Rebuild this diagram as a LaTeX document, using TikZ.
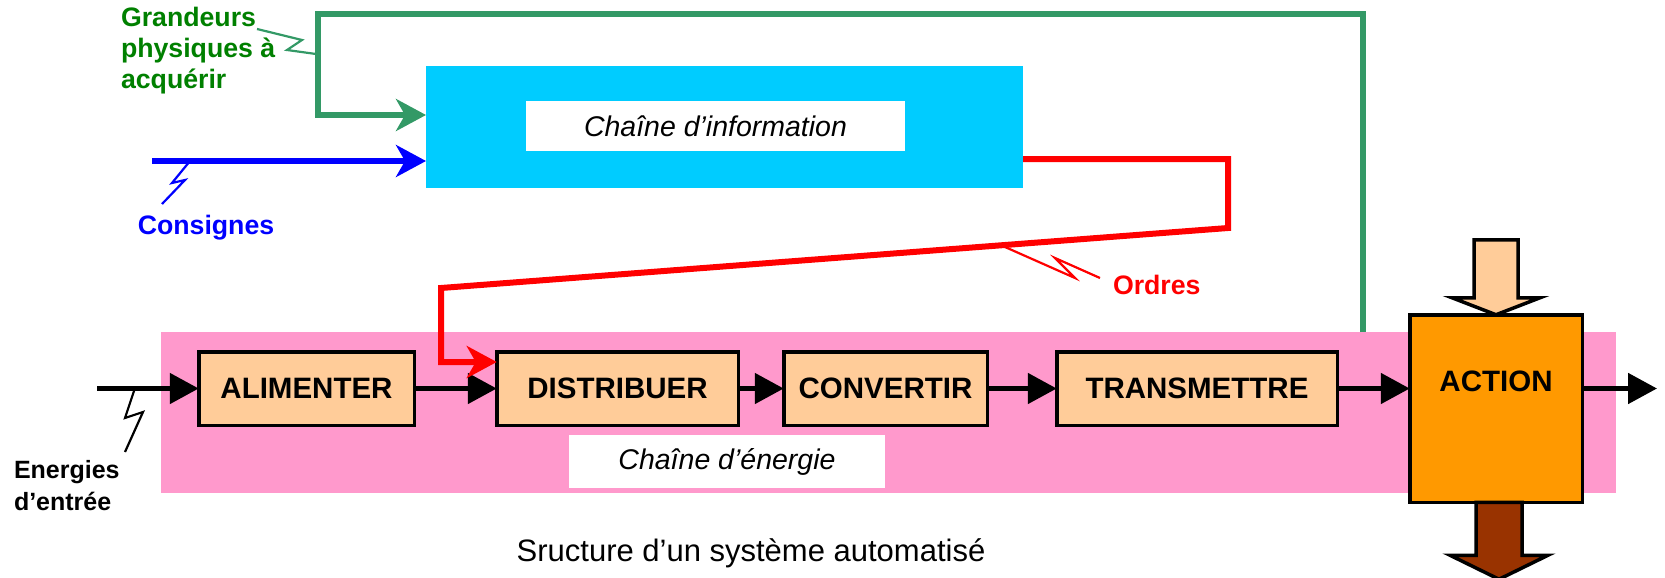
\documentclass[tikz,border=0pt]{standalone}
\usepackage{fontspec}
\setmainfont{Liberation Sans}
\usetikzlibrary{positioning,arrows.meta,calc}
\definecolor{InfoCyan}{HTML}{00CCFF}
\definecolor{EnergyPink}{HTML}{FF99CC}
\definecolor{BoxTan}{HTML}{FFCC99}
\definecolor{ActionOrange}{HTML}{FF9900}
\definecolor{OutBrown}{HTML}{993300}
\definecolor{SensorGreen}{HTML}{339966}
\definecolor{LabelGreen}{HTML}{008000}

\begin{document}
\begin{tikzpicture}[
    x=1pt, y=-1pt,
    every node/.style={inner sep=0pt, outer sep=0pt},
    chainbox/.style={draw=black, line width=3.5pt, fill=BoxTan, minimum height=73.5pt, font=\bfseries\fontsize{29.5}{32}\selectfont},
    tag/.style={fill=white, font=\itshape\fontsize{28.5}{32}\selectfont},
    side/.style={font=\bfseries\fontsize{26.7}{31}\selectfont, align=left},
    flow/.style={line width=5pt, -{Triangle[length=29pt,width=30pt]}},
    signal/.style={line width=6pt, -{Stealth[length=30pt,width=32pt,inset=9pt]}},
    zig/.style={line width=2.2pt},
    blockarrow/.style={draw=black, line width=3.5pt, line join=miter}
  ]
    \useasboundingbox (0,0) rectangle (1665,578);

    % the two chains
    \node[fill=EnergyPink, minimum width=1455pt, minimum height=161pt] (energy) at (888.5,412.5) {};
    \node[tag, minimum width=316pt, minimum height=53pt] (energytag) at (727,461.5) {Chaîne d’énergie};
    \node[fill=InfoCyan, minimum width=597pt, minimum height=122pt] (info) at (724.5,127) {};
    \node[tag, minimum width=379pt, minimum height=50pt] (infotag) at (715.5,126) {Chaîne d’information};

    \node[chainbox, minimum width=215.5pt] (alim) at (306.5,388.5) {ALIMENTER};
    \node[chainbox, minimum width=241.5pt, right=82.5pt of alim] (dist) {DISTRIBUER};
    \node[chainbox, minimum width=203.5pt, right=45.5pt of dist] (conv) {CONVERTIR};
    \node[chainbox, minimum width=280.5pt, right=69.5pt of conv] (trans) {TRANSMETTRE};
    \node[chainbox, fill=ActionOrange, minimum width=172.5pt, minimum height=187.5pt] (action) at (1496,408.5) {};
    \node[font=\bfseries\fontsize{29.5}{32}\selectfont, below=56pt of action.north] (actionname) {ACTION};

    % matter in / matter out
    \draw[blockarrow, fill=BoxTan] (action.north) -- ++(-44,-17) -- ++(22,0) -- ++(0,-58) -- ++(44,0) -- ++(0,58) -- ++(22,0) -- cycle;
    \draw[blockarrow, fill=OutBrown] ($(action.south)+(-20,0)$) -- ++(0,53) -- ++(-26,0) -- ++(49,24) -- ++(49,-24) -- ++(-26,0) -- ++(0,-53) -- cycle;

    % energy flow
    \coordinate (feed) at (97,388.5);
    \coordinate (out) at (1657,388.5);
    \draw[flow] (feed) -- (alim);
    \draw[flow] (alim) -- (dist);
    \draw[flow] (dist) -- (conv);
    \draw[flow] (conv) -- (trans);
    \draw[flow] (trans.east) -- (trans.east -| action.west);
    \draw[flow] (action.east |- trans.east) -- (out);

    % information
    \coordinate (setpoint) at (152,161);
    \draw[signal, blue] (setpoint) -- (info.west |- setpoint);
    \draw[signal, SensorGreen] (energy.north -| 1363,0) -- (1363,14) -- (318,14) -- (318,115) -- (info.west |- 0,115);
    \draw[signal, red] (info.east |- 0,159) -- (1228,159) -- (1228,228) -- (441,288) -- (441,362) -- (dist.west |- 0,362);

    % labels
    \node[side, text=LabelGreen, anchor=west] (grandeurs) at (121,51) {Grandeurs\\physiques à\\acquérir};
    \node[side, text=blue] (consignes) at (206,228) {Consignes};
    \node[side, text=red, anchor=west] (ordres) at (1113,285) {Ordres};
    \node[side, font=\bfseries\fontsize{25}{32}\selectfont, anchor=west] (energies) at (14,486) {Energies\\d’entrée};
    \node[font=\fontsize{31}{36}\selectfont] (caption) at (751,553) {Sructure d’un système automatisé};

    \draw[zig, SensorGreen] (257,29) -- (302,40) -- (287,50) -- (316,54);
    \draw[zig, blue] (190,161) -- (172,183) -- (185,180) -- (162,204);
    \draw[zig, red] (1005,247) -- (1075,278) -- (1055,258) -- (1100,278);
    \draw[zig] (135,388) -- (125,418) -- (143,412) -- (125,452);
\end{tikzpicture}
\end{document}
